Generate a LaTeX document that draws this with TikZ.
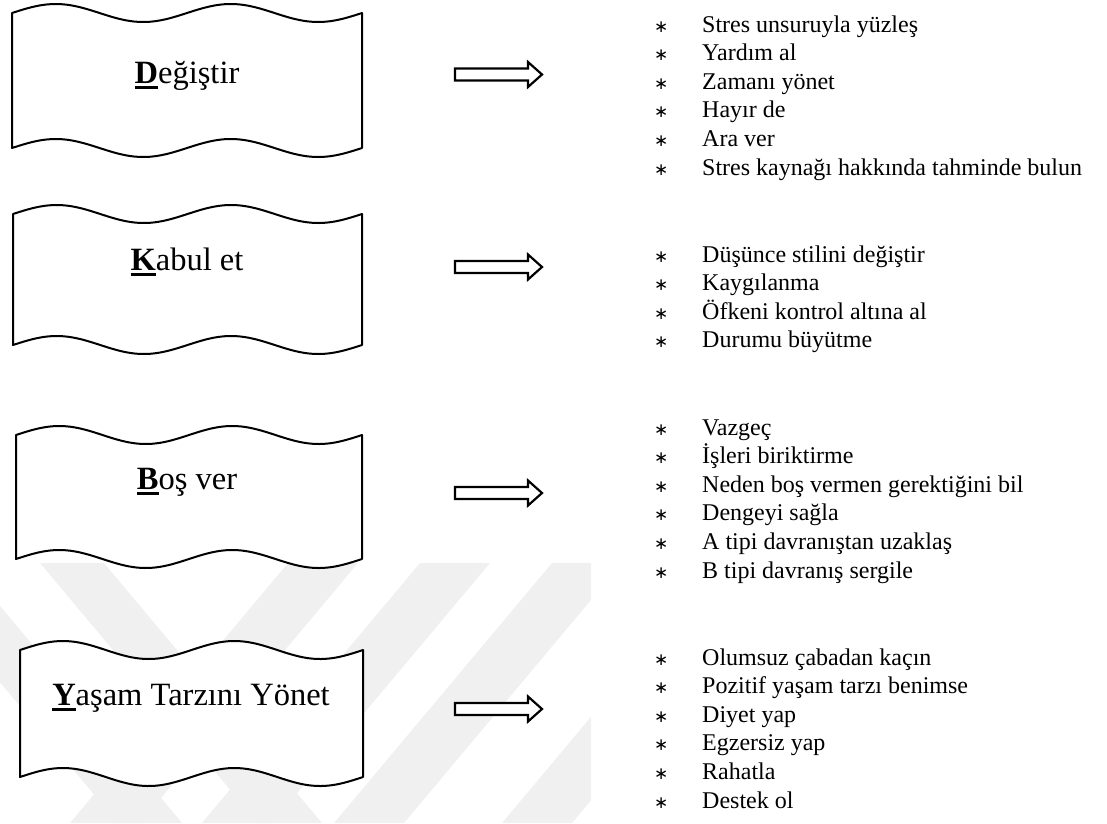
\documentclass[tikz,border=0pt]{standalone}
\usepackage{fontspec}
\setmainfont{Liberation Serif}
\newfontfamily\bulletfont{DejaVu Sans}

% bold, underlined initial letter of a box label
\newsavebox\capbox
\newcommand\leadcap[1]{\sbox\capbox{\bfseries #1}\rlap{\rule[-6pt]{\wd\capbox}{3pt}}\usebox\capbox}
% bullet of the item lists
\newcommand\bul{\makebox[48pt][l]{\fontsize{17}{17}\selectfont\bulletfont ∗}}

% punched-tape box: left x, right x, top centre y, bottom centre y, amplitude
\newcommand\tapebox[5]{%
  \draw[tape] plot[domain=#1:#2,samples=90] (\x,{#3-#5*sin((\x-#1)/(#2-#1)*720)})
    -- plot[domain=#2:#1,samples=90] (\x,{#4-#5*sin((\x-#1)/(#2-#1)*720)}) -- cycle;}

% hollow block arrow centred on height y
\newcommand\blockarrow[1]{%
  \draw[blockarrow] (455,#1-6) -- (528,#1-6) -- (528,#1-12.5) -- (542,#1)
    -- (528,#1+12.5) -- (528,#1+6) -- (455,#1+6) -- cycle;}

\tikzset{
  tape/.style={draw=black, line width=2pt, fill=white, line join=round},
  blockarrow/.style={draw=black, line width=2.2pt, fill=white, line join=miter},
  boxlabel/.style={anchor=base, inner sep=0pt, font=\fontsize{32.5}{39}\selectfont},
  itemline/.style={anchor=base west, inner sep=0pt, font=\fontsize{24}{28.6}\selectfont},
  wmark/.style={fill=black!6, draw=none}
}

\begin{document}
\begin{tikzpicture}[x=1pt,y=-1pt]
\useasboundingbox (0,0) rectangle (1107,823);

% faint diagonal bands in the lower left
\begin{scope}
  \clip (0,563) rectangle (591,823);
  \foreach \s in {288,420,552,720}
    \fill[wmark] (\s,563) -- (\s+70,563) -- (\s-148,823) -- (\s-218,823) -- cycle;
  \foreach \s in {-100,40}
    \fill[wmark] (\s,563) -- (\s+64,563) -- (\s+282,823) -- (\s+218,823) -- cycle;
\end{scope}

% the four strategy boxes
\tapebox{12}{362}{13}{148}{9}
\tapebox{13}{362}{214}{345}{9}
\tapebox{16}{362}{435}{559}{9}
\tapebox{20}{363}{650}{777}{9}

\node[boxlabel] (d) at (187,83)  {\leadcap{D}eğiştir};
\node[boxlabel] (k) at (187,270) {\leadcap{K}abul et};
\node[boxlabel] (b) at (187,489) {\leadcap{B}oş ver};
\node[boxlabel] (y) at (191,705) {\leadcap{Y}aşam Tarzını Yönet};

% arrows towards the item lists
\blockarrow{74.5}
\blockarrow{267}
\blockarrow{493}
\blockarrow{709}

% item lists
\foreach \t [count=\i from 0] in {Stres unsuruyla yüzleş, Yardım al, Zamanı yönet,
    Hayır de, Ara ver, Stres kaynağı hakkında tahminde bulun}
  \node[itemline] (la-\i) at (654,32+28.6*\i) {\bul\t};
\foreach \t [count=\i from 0] in {Düşünce stilini değiştir, Kaygılanma,
    Öfkeni kontrol altına al, Durumu büyütme}
  \node[itemline] (lb-\i) at (654,262+28.6*\i) {\bul\t};
\foreach \t [count=\i from 0] in {Vazgeç, İşleri biriktirme,
    Neden boş vermen gerektiğini bil, Dengeyi sağla,
    A tipi davranıştan uzaklaş, B tipi davranış sergile}
  \node[itemline] (lc-\i) at (654,435+28.6*\i) {\bul\t};
\foreach \t [count=\i from 0] in {Olumsuz çabadan kaçın, Pozitif yaşam tarzı benimse,
    Diyet yap, Egzersiz yap, Rahatla, Destek ol}
  \node[itemline] (ld-\i) at (654,665+28.6*\i) {\bul\t};
\end{tikzpicture}
\end{document}
